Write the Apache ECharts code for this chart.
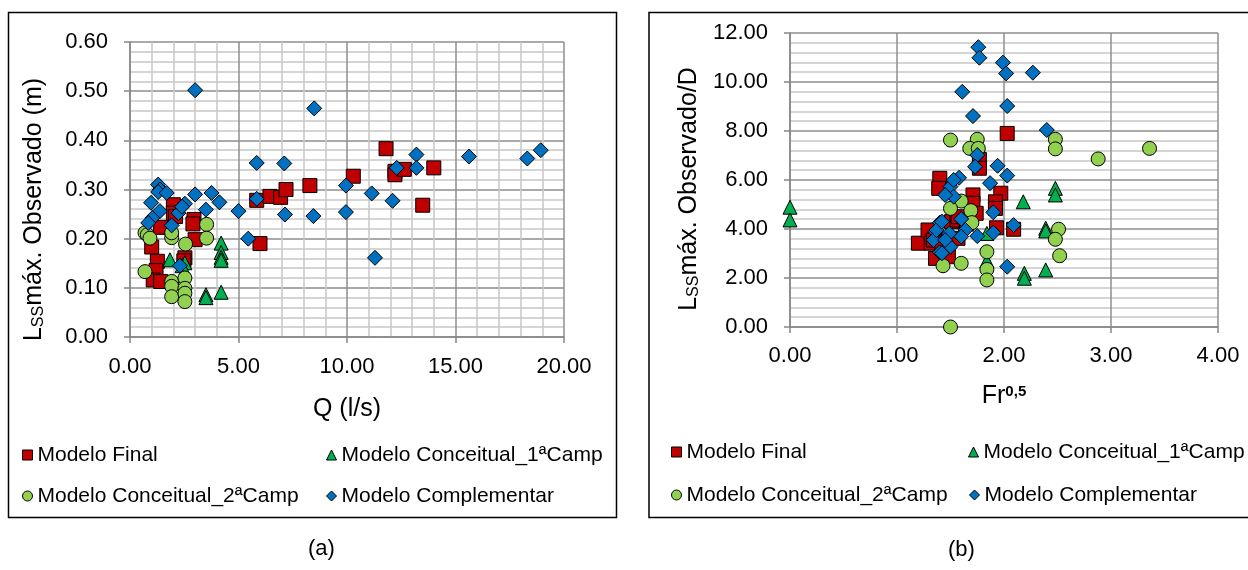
<!DOCTYPE html>
<html>
<head>
<meta charset="utf-8">
<script src="https://cdn.jsdelivr.net/npm/echarts@6/dist/echarts.min.js"></script>
<style>
html,body{margin:0;padding:0;background:#fff;}
#chart{width:1248px;height:570px;}
</style>
</head>
<body>
<div id="chart"></div>
<script>
// ---- series names ----
const seriesNames = ['Modelo Final', 'Modelo Conceitual_1ªCamp', 'Modelo Conceitual_2ªCamp', 'Modelo Complementar'];

// ---- panel (a): Q (l/s) vs LSS máx. observado (m) ----
const finalQ_a = [1.00, 1.26, 1.20, 1.07, 1.41, 1.41, 2.00, 2.00, 2.10, 2.53, 2.48, 2.95, 2.90, 3.00, 5.84, 5.99, 6.45, 6.94, 7.19, 8.29, 10.29, 11.80, 12.21, 12.21, 12.64, 13.49, 14.00];
const finalL_a = [0.183, 0.154, 0.135, 0.116, 0.113, 0.223, 0.269, 0.252, 0.245, 0.161, 0.155, 0.239, 0.230, 0.198, 0.278, 0.190, 0.286, 0.284, 0.300, 0.308, 0.327, 0.383, 0.337, 0.330, 0.341, 0.268, 0.344];

const triQ_a = [1.84, 2.53, 2.40, 4.20, 4.20, 4.20, 4.20, 3.50, 3.50, 4.20];
const triL_a = [0.157, 0.151, 0.145, 0.191, 0.172, 0.162, 0.156, 0.086, 0.080, 0.091];

const circQ_a = [0.69, 0.80, 0.92, 1.92, 1.92, 3.53, 3.53, 2.56, 0.69, 1.92, 1.92, 1.92, 2.53, 2.53, 2.53, 2.53];
const circL_a = [0.212, 0.208, 0.201, 0.202, 0.212, 0.229, 0.201, 0.189, 0.133, 0.113, 0.103, 0.082, 0.120, 0.099, 0.089, 0.072];

const compQ_a = [1.30, 1.38, 1.30, 1.69, 3.00, 3.76, 4.12, 5.00, 0.97, 1.38, 1.03, 0.84, 2.23, 2.53, 2.40, 3.50, 1.92, 2.30, 5.45, 3.00, 8.49, 5.84, 7.11, 5.84, 7.14, 8.45, 9.95, 9.95, 11.14, 12.10, 11.29, 12.29, 13.20, 13.20, 15.62, 18.31, 18.93];
const compL_a = [0.310, 0.300, 0.295, 0.293, 0.290, 0.293, 0.274, 0.256, 0.273, 0.256, 0.242, 0.232, 0.252, 0.271, 0.265, 0.259, 0.227, 0.145, 0.200, 0.502, 0.465, 0.354, 0.353, 0.281, 0.249, 0.246, 0.254, 0.308, 0.292, 0.277, 0.161, 0.344, 0.371, 0.344, 0.367, 0.363, 0.380];

// ---- panel (b): Fr^0,5 vs LSS máx. observado / D ----
const finalF_b = [1.20, 1.29, 1.32, 1.36, 1.40, 1.39, 1.48, 1.48, 1.51, 1.56, 1.57, 1.57, 1.71, 1.71, 1.74, 1.77, 1.77, 1.97, 1.92, 1.92, 1.93, 2.03, 2.09, 1.34, 1.65, 1.42];
const finalY_b = [3.42, 3.96, 3.42, 2.80, 6.07, 5.66, 2.87, 3.55, 4.30, 4.37, 4.50, 3.62, 5.39, 5.05, 4.64, 6.84, 6.48, 5.46, 5.11, 4.84, 4.05, 7.90, 3.99, 3.55, 4.20, 3.30];

const triF_b = [0.00, 0.00, 1.84, 1.84, 2.18, 2.48, 2.48, 2.39, 2.39, 2.19, 2.19, 2.39];
const triY_b = [4.89, 4.37, 3.82, 2.70, 5.11, 5.66, 5.39, 4.03, 3.92, 2.19, 1.99, 2.33];

const circF_b = [1.50, 1.75, 1.68, 1.76, 2.48, 2.48, 2.88, 3.36, 1.60, 1.50, 1.69, 1.70, 2.51, 2.48, 2.52, 1.84, 1.84, 1.84, 1.43, 1.60, 1.50];
const circY_b = [7.63, 7.66, 7.29, 7.29, 7.66, 7.27, 6.86, 7.29, 5.14, 4.84, 4.75, 4.26, 3.99, 3.58, 2.91, 3.07, 2.35, 1.92, 2.50, 2.60, 0.00];

const compF_b = [1.76, 1.77, 1.99, 2.02, 2.27, 1.61, 2.03, 1.71, 2.40, 1.75, 1.73, 1.94, 2.03, 1.58, 1.87, 1.50, 1.53, 1.45, 1.53, 1.90, 1.60, 2.09, 1.64, 1.90, 1.75, 1.40, 1.36, 1.49, 1.50, 1.40, 2.03, 1.34, 1.45, 1.37, 1.42, 1.60, 1.42];
const compY_b = [11.42, 10.99, 10.79, 10.35, 10.38, 9.60, 9.02, 8.61, 8.04, 7.02, 6.54, 6.58, 6.18, 6.09, 5.87, 5.73, 5.32, 5.39, 6.00, 4.68, 4.41, 4.16, 3.96, 3.85, 3.71, 4.26, 3.89, 3.82, 3.28, 3.05, 2.46, 3.55, 3.55, 3.96, 3.01, 3.69, 4.30];

// ---- styling helpers ----
const FONT = '"Liberation Sans", Arial, sans-serif';
const markerStyles = [
  { symbol: 'rect',     color: '#C00000', size: 14 },
  { symbol: 'triangle', color: '#00B050', size: 14 },
  { symbol: 'circle',   color: '#92D050', size: 14 },
  { symbol: 'diamond',  color: '#0070C0', size: 15 }
];
const zip = (xs, ys) => xs.map((x, i) => [x, ys[i]]);

function scatter(k, xs, ys, gi) {
  const m = markerStyles[k];
  return {
    type: 'scatter', name: seriesNames[k],
    xAxisIndex: gi, yAxisIndex: gi,
    symbol: m.symbol, symbolSize: m.size,
    itemStyle: { color: m.color, borderColor: '#000', borderWidth: 1, opacity: 1 },
    emphasis: { disabled: true },
    data: zip(xs, ys)
  };
}

function valueAxis(gi, min, max, interval, minorSplit, extra) {
  return Object.assign({
    type: 'value', gridIndex: gi, min: min, max: max, interval: interval,
    axisLine: { show: true, onZero: false, lineStyle: { color: '#868686', width: 1.5 } },
    axisTick: { show: true, length: 6, lineStyle: { color: '#868686', width: 1.5 } },
    axisLabel: { formatter: v => v.toFixed(2), fontSize: 22, color: '#000', fontFamily: FONT },
    splitLine: { show: true, lineStyle: { color: '#8e8e8e', width: 1.5 } },
    minorTick: { show: false, splitNumber: 5 },
    minorSplitLine: { show: minorSplit, lineStyle: { color: '#c8c8c8', width: 1.5 } },
    nameLocation: 'middle',
    nameTextStyle: { fontSize: 25, color: '#000', fontFamily: FONT }
  }, extra);
}

const richMain = { fontSize: 25, color: '#000', fontFamily: FONT };
const richSub = { fontSize: 16, color: '#000', fontFamily: FONT, verticalAlign: 'bottom' };
const richSup = { fontSize: 15, color: '#000', fontFamily: FONT, fontWeight: 'bold', verticalAlign: 'top' };

function legendItem(name, left, top) {
  return {
    data: [name], left: left, top: top, padding: 0,
    itemWidth: 10, itemHeight: 10, selectedMode: false,
    itemStyle: { borderColor: '#000', borderWidth: 1 },
    textStyle: { fontSize: 21, color: '#000', fontFamily: FONT }
  };
}

const option = {
  animation: false,
  backgroundColor: '#fff',
  grid: [
    { left: 130, top: 42, width: 434, height: 295 },
    { left: 790, top: 33, width: 428, height: 294 }
  ],
  xAxis: [
    valueAxis(0, 0, 20, 5, true, {
      name: 'Q (l/s)', nameGap: 60,
      axisLabel: { formatter: v => v.toFixed(2), fontSize: 22, color: '#000', fontFamily: FONT, margin: 19 }
    }),
    valueAxis(1, 0, 4, 1, false, {
      name: '{m|Fr}{p|0,5}', nameGap: 57,
      nameTextStyle: { rich: { m: richMain, p: richSup } },
      axisLabel: { formatter: v => v.toFixed(2), fontSize: 22, color: '#000', fontFamily: FONT, margin: 18 }
    })
  ],
  yAxis: [
    valueAxis(0, 0, 0.6, 0.1, true, {
      name: '{m|L}{s|SS}{m|máx. Observado (m)}', nameGap: 83,
      nameTextStyle: { padding: [0, 40, 0, 0], rich: { m: richMain, s: richSub } },
      axisLabel: { formatter: v => v.toFixed(2), fontSize: 22, color: '#000', fontFamily: FONT, margin: 22 }
    }),
    valueAxis(1, 0, 12, 2, true, {
      name: '{m|L}{s|SS}{m|máx. Observado/D}', nameGap: 88,
      nameTextStyle: { padding: [0, 18, 0, 0], rich: { m: richMain, s: richSub } },
      axisLabel: { formatter: v => v.toFixed(2), fontSize: 22, color: '#000', fontFamily: FONT, margin: 22 }
    })
  ],
  legend: [
    legendItem(seriesNames[0], 22, 444.5),
    legendItem(seriesNames[1], 326, 444.5),
    legendItem(seriesNames[2], 22, 485.5),
    legendItem(seriesNames[3], 326, 485.5),
    legendItem(seriesNames[0], 671, 441.5),
    legendItem(seriesNames[1], 968, 441.5),
    legendItem(seriesNames[2], 671, 484.5),
    legendItem(seriesNames[3], 969, 484.5)
  ],
  graphic: [
    { type: 'rect', shape: { x: 8.5, y: 12.5, width: 608, height: 505 },
      style: { fill: 'none', stroke: '#000', lineWidth: 1.5 }, silent: true },
    { type: 'rect', shape: { x: 649, y: 12.5, width: 620, height: 505 },
      style: { fill: 'none', stroke: '#000', lineWidth: 1.5 }, silent: true },
    { type: 'text', left: 308, top: 538,
      style: { text: '(a)', fontSize: 22, fill: '#000', fontFamily: FONT } },
    { type: 'text', left: 948, top: 539,
      style: { text: '(b)', fontSize: 22, fill: '#000', fontFamily: FONT } }
  ],
  series: [
    scatter(0, finalQ_a, finalL_a, 0),
    scatter(1, triQ_a, triL_a, 0),
    scatter(2, circQ_a, circL_a, 0),
    scatter(3, compQ_a, compL_a, 0),
    scatter(0, finalF_b, finalY_b, 1),
    scatter(1, triF_b, triY_b, 1),
    scatter(2, circF_b, circY_b, 1),
    scatter(3, compF_b, compY_b, 1)
  ]
};

const chart = echarts.init(document.getElementById('chart'), null, { renderer: 'canvas' });
chart.setOption(option);
</script>
</body>
</html>
